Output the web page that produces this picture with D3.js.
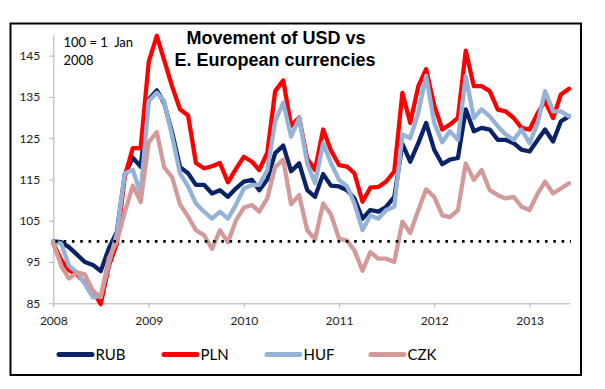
<!DOCTYPE html>
<html>
<head>
<meta charset="utf-8">
<script src="https://cdn.jsdelivr.net/npm/d3@7/dist/d3.min.js"></script>
<style>
    body { margin: 0; background: #fff; }
    svg { display: block; }
    .tick text { font-family: Lato, "Open Sans", sans-serif; font-size: 12px; fill: #222; }
    .axis path, .axis line { stroke: #b0b0b0; }
</style>
</head>
<body>
<main id="root"></main>
<script>
"use strict";

// monthly averages, Jan 2008 .. Jun 2013, 100 = 1 Jan 2008
var start_year = 2008;
var y_ticks = [85, 95, 105, 115, 125, 135, 145];
var series_names = ['RUB', 'PLN', 'HUF', 'CZK'];
var series_colors = ['#0c2266', '#ff0000', '#95b3d7', '#d49a9a'];

var rub = [100, 99.8, 98.6, 96.8, 95, 94.3, 92.8, 98.3, 102.3, 116.1, 120.3, 118.1,
    134.4, 136.6, 133.6, 126.3, 118, 116.5, 113.7, 113.7, 111.6, 112.4, 110.8, 112.8,
    114.5, 114.9, 112.4, 115, 121.4, 123.2, 117, 118.9, 112.4, 110.8, 116.3, 113.5,
    113.3, 112.4, 110.4, 105.5, 107.6, 107.2, 108.4, 110.8, 123.6, 119.3, 123.8, 128.7,
    122.2, 118.7, 119.8, 120.2, 132, 126.7, 127.5, 127.1, 124.6, 124.6, 123.8, 122.2,
    121.8, 124.6, 127.1, 124.2, 129.1, 130.3];

var pln = [99.5, 95.4, 93, 92, 90, 88, 84.8, 94, 99.5, 115.7, 122.6, 122.6,
    143.5, 149.8, 144, 137.5, 132, 130.5, 119, 117.7, 118.2, 119, 114.3, 117.5,
    120.5, 119.3, 117.3, 121.5, 136.4, 139, 128, 130, 120, 117.3, 127.1, 122,
    118.5, 118.1, 116.5, 109.6, 113, 113.2, 114.5, 117, 136, 128.7, 137.6, 141.7,
    133, 127.1, 128.3, 129.9, 146.2, 137.6, 137.6, 136.4, 131.9, 131.5, 129.9, 127.5,
    127.1, 131.1, 134, 129.9, 135.6, 137];

var huf = [100, 99.4, 94.1, 92.5, 89.7, 86.4, 86.8, 94.6, 101.9, 116.5, 117.3, 111.6,
    134, 136, 134, 125.4, 116.5, 113.3, 109.2, 107.2, 105.5, 107.2, 105.5, 108.8,
    112.8, 113.7, 113.7, 117.3, 129.1, 133.6, 125.4, 129.9, 118.9, 114.1, 123.8, 119,
    114.9, 113.3, 109.2, 102.7, 106.3, 105.5, 107.6, 108.4, 125.9, 125, 131.1, 140.1,
    128.7, 124, 126.7, 124.6, 140, 129.9, 132, 130.3, 127.9, 125.9, 124.6, 127.1,
    123.8, 128.7, 136.4, 131.5, 131.5, 130.3];

var czk = [99.5, 94, 91, 92.5, 92, 88, 86.5, 96, 100, 107, 113.5, 109.5,
    124, 126.5, 118, 115.5, 109, 106, 102.7, 101.5, 98.2, 102.7, 99.8, 105,
    108.2, 108.8, 107.2, 110.5, 118, 119.8, 109, 111.2, 102.7, 100.5, 109.2, 106.5,
    100.7, 100.2, 97.8, 92.9, 97.4, 95.8, 95.8, 95, 104.8, 102, 107.6, 112.6,
    110.8, 106.3, 105.9, 107.6, 118.9, 114.9, 117.3, 112.4, 111.2, 110.4, 110.8, 108.4,
    107.6, 111.6, 114.5, 111.6, 112.8, 114.1];

var baseline = 100;

var width = 605, height = 389;

var svg = d3.select('main#root').append('svg')
    .attr('width', width)
    .attr('height', height);

svg.append('rect')
    .attr('width', width).attr('height', height)
    .attr('fill', '#fff');

// outer frame
svg.append('rect')
    .attr('x', 10.5).attr('y', 23.5)
    .attr('width', 570.5).attr('height', 351.5)
    .attr('fill', 'none')
    .attr('stroke', '#000')
    .attr('stroke-width', 2);

function month_date( i ) { return new Date(start_year, i, 1); }

var n = rub.length;

var x = d3.scaleTime()
    .domain([ month_date(0), month_date(n - 1) ])
    .range([ 53.3, 569 ]);

var y = d3.scaleLinear()
    .domain([ 85, 150 ])
    .range([ 303.3, 35 ]);

// axes
svg.append('g')
    .classed('axis', true)
    .attr('transform', 'translate(0,' + y(85) + ')')
    .call( d3.axisBottom(x)
        .ticks(d3.timeYear.every(1))
        .tickFormat(d3.timeFormat('%Y'))
        .tickSizeInner(4).tickSizeOuter(0).tickPadding(9) )
    .call( function( g ) { g.select('.domain').attr('d', 'M53.3,0.5H570'); } );

svg.append('g')
    .classed('axis', true)
    .attr('transform', 'translate(' + x(month_date(0)) + ',0)')
    .call( d3.axisLeft(y)
        .tickValues(y_ticks)
        .tickSizeInner(4).tickSizeOuter(0).tickPadding(9) );

// series lines, drawn in Excel order so CZK ends up on top
var line = d3.line()
    .x( function( d, i ) { return x(month_date(i)); })
    .y( function( d ) { return y(d); })
    .curve(d3.curveLinear);

var all_series = [ rub, pln, huf, czk ];

svg.append('g').selectAll('path.series')
    .data(all_series)
    .enter().append('path')
        .classed('series', true)
        .attr('d', line)
        .attr('fill', 'none')
        .attr('stroke', function( d, i ) { return series_colors[i]; })
        .attr('stroke-width', 4.3)
        .attr('stroke-linejoin', 'round')
        .attr('stroke-linecap', 'round');

// dotted 100 line
svg.append('line')
    .attr('x1', x(month_date(0)) + 2).attr('x2', x(month_date(n - 1)) + 2)
    .attr('y1', y(baseline)).attr('y2', y(baseline))
    .attr('stroke', '#000')
    .attr('stroke-width', 2.6)
    .attr('stroke-dasharray', '2.6,5.7');

// titles
var title = svg.append('text')
    .attr('text-anchor', 'middle')
    .attr('font-family', '"Liberation Sans", Arial, sans-serif')
    .attr('font-weight', 'bold')
    .attr('font-size', 18)
    .attr('fill', '#000');
title.append('tspan').attr('x', 276).attr('y', 44).text('Movement of USD vs');
title.append('tspan').attr('x', 275).attr('y', 65.5).text('E. European currencies');

var note = svg.append('text')
    .attr('font-family', 'Lato, "Open Sans", sans-serif')
    .attr('font-size', 13)
    .attr('fill', '#000')
    .style('white-space', 'pre');
note.append('tspan').attr('x', 63.5).attr('y', 46.5).text('100 = 1  Jan');
note.append('tspan').attr('x', 63.5).attr('y', 64.5).text('2008');

// legend
var legend_x = [ 57, 162, 265, 369 ];
var legend = svg.append('g').selectAll('g')
    .data(series_names)
    .enter().append('g')
        .attr('transform', function( d, i ) { return 'translate(' + legend_x[i] + ',354.5)'; });

legend.append('line')
    .attr('x1', 2).attr('x2', 35)
    .attr('stroke', function( d, i ) { return series_colors[i]; })
    .attr('stroke-width', 5)
    .attr('stroke-linecap', 'round');

legend.append('text')
    .attr('x', 38.5).attr('y', 5.5)
    .attr('font-family', 'Lato, "Open Sans", sans-serif')
    .attr('font-size', 15)
    .attr('fill', '#000')
    .text( function( d ) { return d; });
</script>
</body>
</html>
